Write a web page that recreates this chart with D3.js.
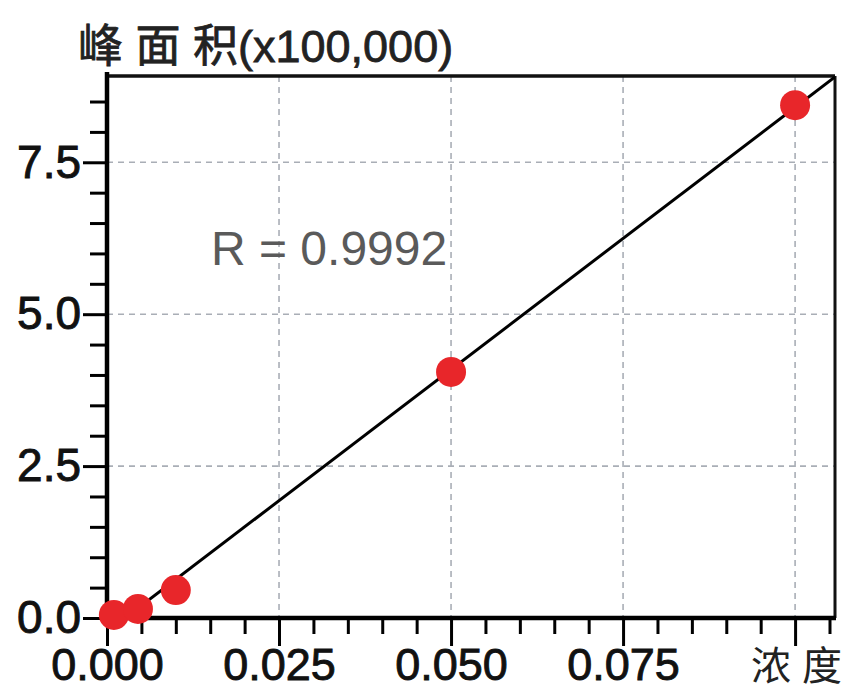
<!DOCTYPE html>
<html>
<head>
<meta charset="utf-8">
<script src="https://cdn.jsdelivr.net/npm/d3@7"></script>
<style>
  body { margin: 0; background: #fff; }
  svg text { font-family: "Liberation Sans", Arial, "Noto Sans CJK SC", sans-serif; }
  .axis path { display: none; }
  .axis line { stroke: #000; }
</style>
</head>
<body>
<div class="chart"></div>
<script>
// calibration points
const concentration = [0.001, 0.0045, 0.01, 0.05, 0.1];
const peakArea = [0.05, 0.15, 0.46, 4.05, 8.44]; // x100,000
const xMajor = [0, 0.025, 0.05, 0.075, 0.1];
const xLabels = ['0.000', '0.025', '0.050', '0.075', ''];
const yMajor = [0, 2.5, 5, 7.5];
const yLabels = ['0.0', '2.5', '5.0', '7.5'];
const rText = 'R = 0.9992';

const W = 844, H = 689;
const plot = { left: 107, right: 835, top: 76, bottom: 618 };

const svg = d3.select('.chart').append('svg').attr('width', W).attr('height', H);

const x = d3.scaleLinear().domain([0, 0.1058]).range([plot.left, plot.right]);
const y = d3.scaleLinear().domain([0, 8.92]).range([plot.bottom, plot.top]);

//dashed grid at the major ticks
svg.append('g').selectAll('line').data(xMajor.slice(1)).join('line')
  .attr('x1', d => x(d)).attr('x2', d => x(d))
  .attr('y1', plot.top).attr('y2', plot.bottom)
  .attr('stroke', '#a9aeb6').attr('stroke-width', 1.6).attr('stroke-dasharray', '6,5');
svg.append('g').selectAll('line').data(yMajor.slice(1)).join('line')
  .attr('x1', plot.left).attr('x2', plot.right)
  .attr('y1', d => y(d)).attr('y2', d => y(d))
  .attr('stroke', '#a9aeb6').attr('stroke-width', 1.6).attr('stroke-dasharray', '6,5');

// minor ticks every 0.005 / 0.5
const xMinor = d3.range(0, 0.1051, 0.005).filter(v => !xMajor.some(m => Math.abs(m - v) < 1e-9));
const yMinor = d3.range(0, 8.51, 0.5).filter(v => !yMajor.some(m => Math.abs(m - v) < 1e-9));

svg.append('g').attr('class', 'axis').attr('transform', `translate(0,${plot.bottom})`)
  .call(d3.axisBottom(x).tickValues(xMinor).tickSize(16).tickFormat(''))
  .selectAll('line').attr('stroke-width', 3);
const xAx = svg.append('g').attr('class', 'axis').attr('transform', `translate(0,${plot.bottom})`)
  .call(d3.axisBottom(x).tickValues(xMajor).tickSize(28).tickPadding(4)
    .tickFormat((d, i) => xLabels[i]));
xAx.selectAll('line').attr('stroke-width', 3);
xAx.selectAll('text').attr('font-size', 45).attr('fill', '#111').attr('dy', '0.71em')
  .attr('y', 30).attr('stroke', '#111').attr('stroke-width', 0.9);

svg.append('g').attr('class', 'axis').attr('transform', `translate(${plot.left},0)`)
  .call(d3.axisLeft(y).tickValues(yMinor).tickSize(17).tickFormat(''))
  .selectAll('line').attr('stroke-width', 3);
const yAx = svg.append('g').attr('class', 'axis').attr('transform', `translate(${plot.left},0)`)
  .call(d3.axisLeft(y).tickValues(yMajor).tickSize(24).tickPadding(2)
    .tickFormat((d, i) => yLabels[i]));
yAx.selectAll('line').attr('stroke-width', 3);
yAx.selectAll('text').attr('font-size', 46).attr('fill', '#111')
  .attr('stroke', '#111').attr('stroke-width', 0.9);

// frame: heavy axes, lighter top/right
svg.append('line').attr('x1', plot.right).attr('x2', plot.right).attr('y1', plot.top).attr('y2', plot.bottom)
  .attr('stroke', '#111').attr('stroke-width', 3);
svg.append('line').attr('x1', plot.left).attr('x2', plot.right).attr('y1', plot.top).attr('y2', plot.top)
  .attr('stroke', '#111').attr('stroke-width', 3.5);
svg.append('line').attr('x1', plot.left).attr('x2', plot.left).attr('y1', plot.top - 4).attr('y2', plot.bottom + 2)
  .attr('stroke', '#000').attr('stroke-width', 4.5);
svg.append('line').attr('x1', plot.left - 2).attr('x2', plot.right + 1).attr('y1', plot.bottom).attr('y2', plot.bottom)
  .attr('stroke', '#000').attr('stroke-width', 4.5);

// least squares line through the points
const mx = d3.mean(concentration), my = d3.mean(peakArea);
const slope = d3.sum(concentration, (c, i) => (c - mx) * (peakArea[i] - my)) /
  d3.sum(concentration, c => (c - mx) * (c - mx));
const intercept = my - slope * mx;

svg.append('clipPath').attr('id', 'plotClip').append('rect')
  .attr('x', plot.left).attr('y', plot.top)
  .attr('width', plot.right - plot.left).attr('height', plot.bottom - plot.top);

const fit = [0, x.domain()[1]];
svg.append('path')
  .datum(fit)
  .attr('clip-path', 'url(#plotClip)')
  .attr('d', d3.line().x(d => x(d)).y(d => y(slope * d + intercept)))
  .attr('stroke', '#000').attr('stroke-width', 3).attr('fill', 'none');

svg.append('g').selectAll('circle').data(concentration).join('circle')
  .attr('cx', d => x(d))
  .attr('cy', (d, i) => y(peakArea[i]))
  .attr('r', 15)
  .attr('fill', '#e8262a');

// texts
svg.append('text').attr('x', 78).attr('y', 62)
  .attr('font-size', 45).attr('fill', '#222')
  .attr('stroke', '#222').attr('stroke-width', 0.8)
  .text('峰 面 积(x100,000)');

svg.append('text').attr('x', 842).attr('y', 680)
  .attr('text-anchor', 'end')
  .attr('font-size', 40).attr('fill', '#222')
  .text('浓 度');

svg.append('text').attr('x', 211).attr('y', 265)
  .attr('font-size', 48).attr('fill', '#5a5a5a')
  .text(rText);
</script>
</body>
</html>
